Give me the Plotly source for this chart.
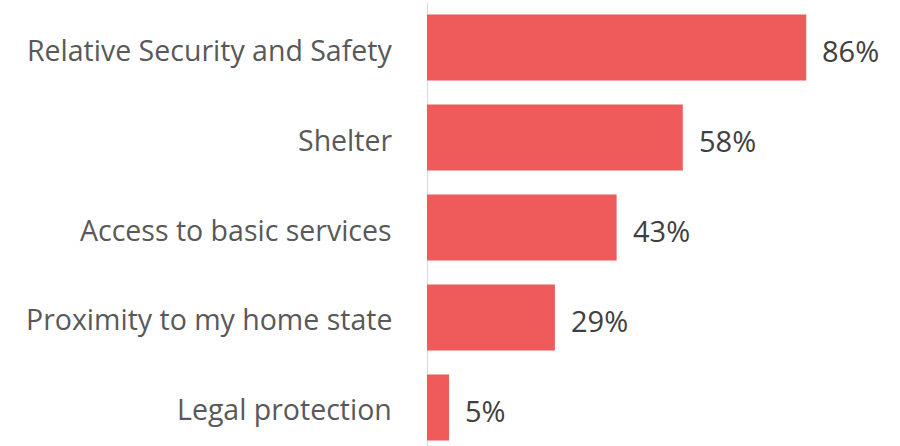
import plotly.graph_objects as go

categories = [
    "Relative Security and Safety",
    "Shelter",
    "Access to basic services",
    "Proximity to my home state",
    "Legal protection",
]
values = [86, 58, 43, 29, 5]
value_labels = ["86%", "58%", "43%", "29%", "5%"]

BAR_COLOR = "#EF5A5A"
FONT = "Open Sans"

fig = go.Figure(
    go.Bar(
        x=values,
        y=categories,
        orientation="h",
        marker=dict(color=BAR_COLOR, line=dict(width=0)),
        width=0.733,
        hoverinfo="skip",
    )
)

annotations = []
for cat, v, lab in zip(categories, values, value_labels):
    # value label just past the end of each bar
    annotations.append(dict(
        x=v, y=cat, xref="x", yref="y", text=lab, showarrow=False,
        xanchor="left", yanchor="middle", xshift=14, yshift=-3,
        font=dict(family=FONT, size=29, color="#404040"),
    ))
    # category label to the left of the axis line
    annotations.append(dict(
        x=0, y=cat, xref="paper", yref="y", text=cat, showarrow=False,
        xanchor="right", yanchor="middle", xshift=-33, yshift=-2,
        font=dict(family=FONT, size=28.5, color="#595959"),
    ))

fig.update_layout(
    width=900, height=446,
    margin=dict(l=427, r=0, t=0, b=0),
    paper_bgcolor="white", plot_bgcolor="white",
    showlegend=False,
    xaxis=dict(range=[0, 473 / 4.41], visible=False, fixedrange=True),
    yaxis=dict(
        type="category", categoryorder="array", categoryarray=categories,
        range=[4.428, -0.528], autorange=False,
        showticklabels=False, showgrid=False, zeroline=False, showline=False,
    ),
    annotations=annotations,
    shapes=[dict(
        type="line", xref="x", yref="paper", x0=0, x1=0, y0=0, y1=0.993,
        line=dict(color="#D9D9D9", width=2), layer="below",
    )],
)

fig.write_html("out.html")
